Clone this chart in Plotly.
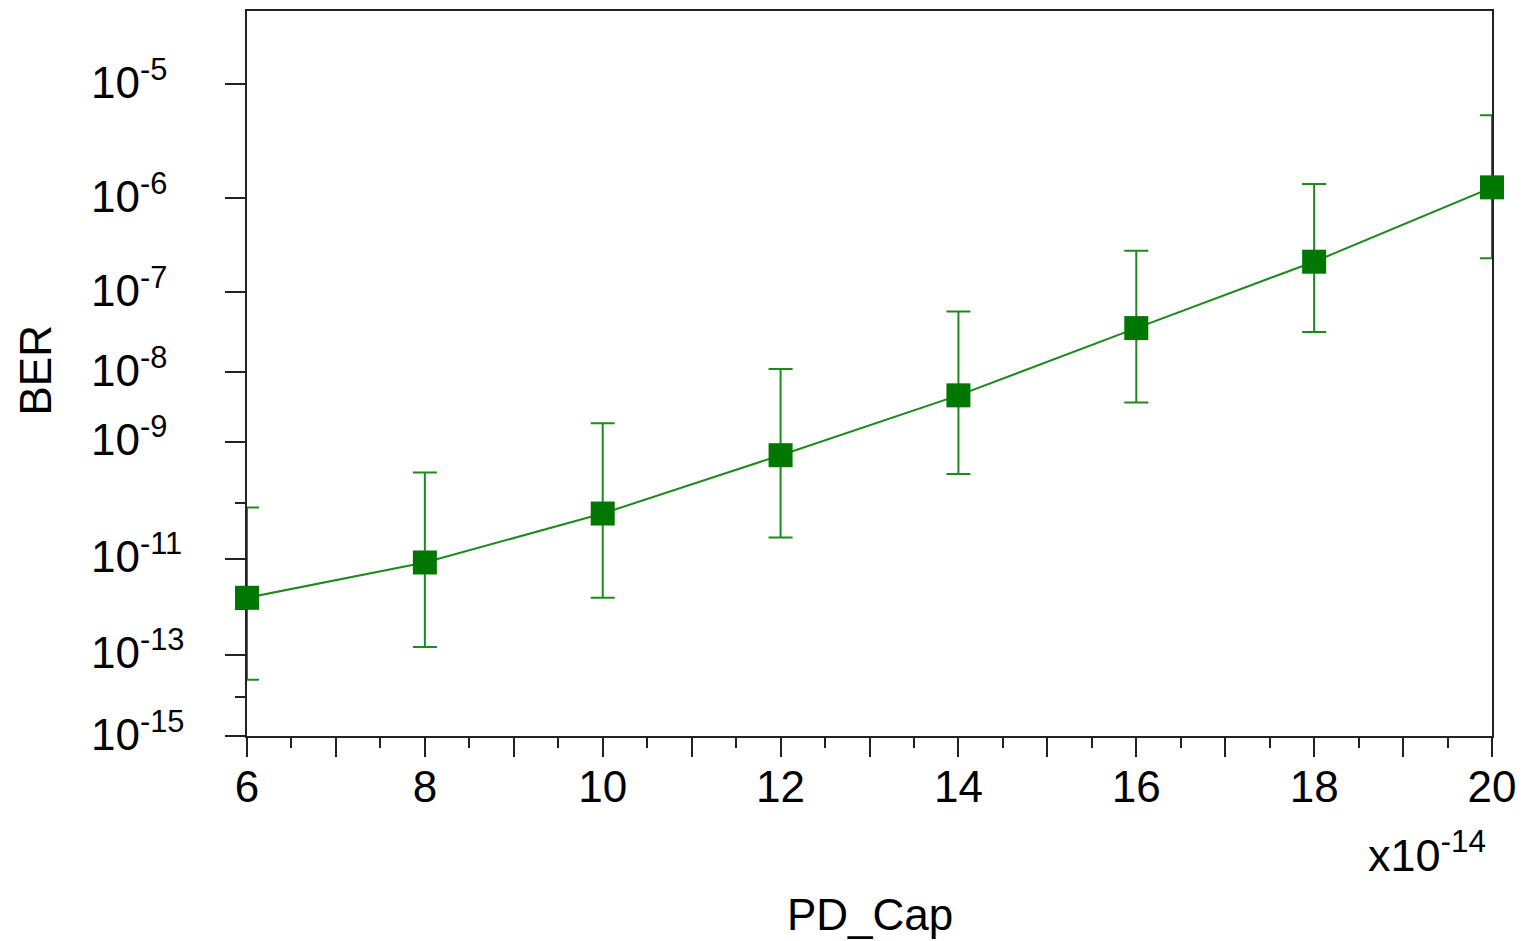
import math
import plotly.graph_objects as go

# PD_Cap sweep (units of 1e-14 F) and measured bit error rate with its spread
pd_cap = [6, 8, 10, 12, 14, 16, 18, 20]
ber = [1.7e-12, 8.5e-12, 6.7e-11, 6.2e-10, 4.8e-9, 3.7e-8, 2.2e-7, 1.27e-6]
ber_upper = [8.5e-11, 3.3e-10, 1.9e-9, 1.1e-8, 5.9e-8, 2.9e-7, 1.37e-6, 5.6e-6]
ber_lower = [2.6e-14, 1.5e-13, 1.7e-12, 2.5e-11, 3.1e-10, 3.8e-9, 3.3e-8, 2.4e-7]

# BER axis: major labels, minor ticks and visible range
ber_ticks = [1e-5, 1e-6, 1e-7, 1e-8, 1e-9, 1e-11, 1e-13, 1e-15]
ber_tick_text = ["10<sup>-5</sup>", "10<sup>-6</sup>", "10<sup>-7</sup>", "10<sup>-8</sup>",
                 "10<sup>-9</sup>", "10<sup>-11</sup>", "10<sup>-13</sup>", "10<sup>-15</sup>"]
ber_minor = [1e-10, 1e-12, 1e-14]
ber_range = [1e-15, 3.5e-5]

x_major = list(range(6, 21))
x_labels = [str(v) if v % 2 == 0 else "" for v in x_major]
x_minor = [v + 0.5 for v in range(6, 20)]

FONT = "Liberation Sans, Arial, sans-serif"
FS = 44
LINE_GREEN = "#1c8a1c"
MARK_GREEN = "#007700"


def q_factor(b):
    """Q such that BER = 0.5*erfc(Q/sqrt(2)), solved by bisection."""
    lo, hi = 0.0, 38.0
    for _ in range(200):
        mid = 0.5 * (lo + hi)
        if 0.5 * math.erfc(mid / math.sqrt(2)) > b:
            lo = mid
        else:
            hi = mid
    return 0.5 * (lo + hi)


def ber_scale(b):
    # BER paper scale: linear in log10(Q)
    return math.log10(q_factor(b))


y = [ber_scale(b) for b in ber]
err_plus = [ber_scale(lo) - ber_scale(c) for lo, c in zip(ber_lower, ber)]
err_minus = [ber_scale(c) - ber_scale(up) for up, c in zip(ber_upper, ber)]

fig = go.Figure()
fig.add_trace(go.Scatter(
    x=pd_cap, y=y, mode="lines+markers",
    line=dict(color=LINE_GREEN, width=2),
    marker=dict(symbol="square", size=24, color=MARK_GREEN, line=dict(width=0)),
    error_y=dict(type="data", symmetric=False, array=err_plus, arrayminus=err_minus,
                 color=LINE_GREEN, thickness=2, width=12),
    cliponaxis=False, showlegend=False, hoverinfo="skip",
))

fig.update_xaxes(
    range=[6, 20], tickmode="array", tickvals=x_major, ticktext=x_labels,
    ticks="outside", ticklen=19, tickwidth=2, tickcolor="#222",
    minor=dict(tickmode="array", tickvals=x_minor, ticks="outside", ticklen=10,
               tickwidth=2, tickcolor="#222"),
    showline=True, linecolor="#222", linewidth=2, mirror=True,
    showgrid=False, zeroline=False, layer="below traces",
    ticklabelstandoff=-8,
    tickfont=dict(family=FONT, size=FS, color="black"),
)
fig.update_yaxes(
    range=[ber_scale(ber_range[0]), ber_scale(ber_range[1])],
    tickmode="array", tickvals=[ber_scale(v) for v in ber_ticks], showticklabels=False,
    ticks="outside", ticklen=20, tickwidth=2, tickcolor="#222",
    minor=dict(tickmode="array", tickvals=[ber_scale(v) for v in ber_minor],
               ticks="outside", ticklen=10, tickwidth=2, tickcolor="#222"),
    showline=True, linecolor="#222", linewidth=2, mirror=True,
    showgrid=False, zeroline=False, layer="below traces",
)

annotations = []
for v, txt in zip(ber_ticks, ber_tick_text):
    annotations.append(dict(
        text=txt, xref="paper", yref="y", x=0, y=ber_scale(v),
        xanchor="left", yanchor="middle", xshift=-158, yshift=5, showarrow=False,
        font=dict(family=FONT, size=FS, color="black"),
    ))
annotations += [
    dict(text="BER", xref="paper", yref="paper", x=0, y=0.5, xshift=-212, yshift=3,
         textangle=-90, showarrow=False, xanchor="center", yanchor="middle",
         font=dict(family=FONT, size=FS, color="black")),
    dict(text="PD_Cap", xref="paper", yref="paper", x=0.5, y=0, yshift=-178,
         xanchor="center", yanchor="middle", showarrow=False,
         font=dict(family=FONT, size=FS, color="black")),
    dict(text="x10<sup>-14</sup>", xref="paper", yref="paper", x=1, y=0, xshift=-4,
         yshift=-85, xanchor="right", yanchor="top", showarrow=False,
         font=dict(family=FONT, size=FS + 1, color="black")),
]

fig.update_layout(
    width=1525, height=941,
    margin=dict(l=247, r=32, t=9, b=205),
    paper_bgcolor="white", plot_bgcolor="white",
    annotations=annotations,
)

fig.write_html("out.html")
